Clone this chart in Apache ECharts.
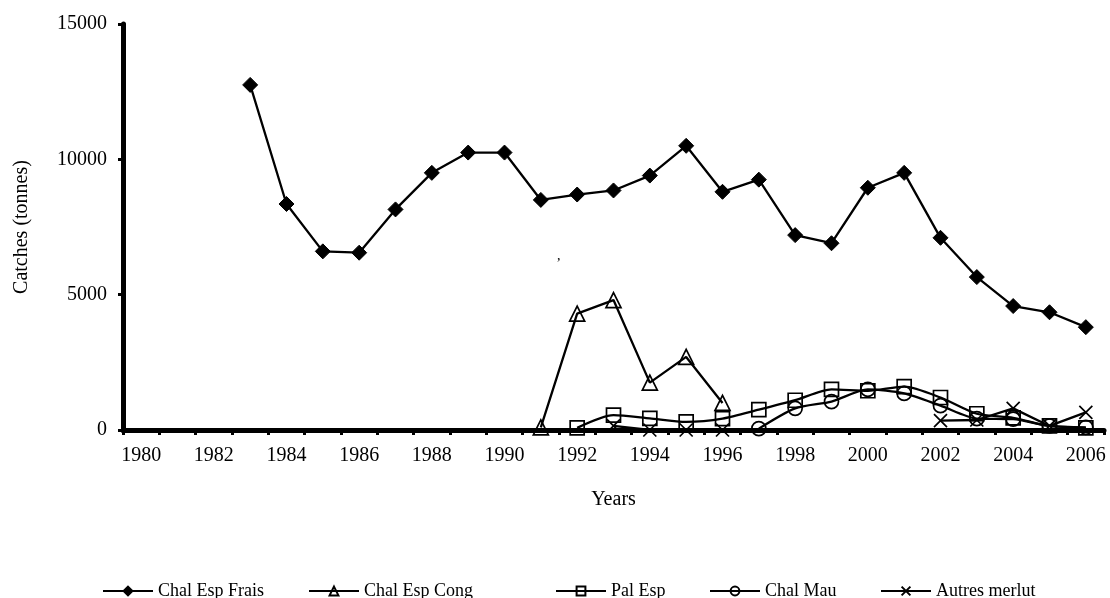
<!DOCTYPE html>
<html><head><meta charset="utf-8">
<script src="https://cdn.jsdelivr.net/npm/echarts@6/dist/echarts.min.js"></script>
<style>html,body{margin:0;padding:0;background:#fff}#c{width:1110px;height:598px}</style>
</head><body><div id="c"></div>
<script>
const years = ['1980','1981','1982','1983','1984','1985','1986','1987','1988','1989','1990','1991','1992','1993','1994','1995','1996','1997','1998','1999','2000','2001','2002','2003','2004','2005','2006'];
const chalEspFrais = [null,null,null,12750,8350,6600,6550,8150,9500,10250,10250,8500,8700,8850,9400,10500,8800,9250,7200,6900,8950,9500,7100,5650,4580,4350,3800];
const chalEspCong = [null,null,null,null,null,null,null,null,null,null,null,100,4300,4800,1750,2700,1000,null,null,null,null,null,null,null,null,null,null];
const palEsp = [null,null,null,null,null,null,null,null,null,null,null,null,80,550,430,300,420,750,1100,1500,1450,1600,1200,600,450,150,80];
const chalMau = [null,null,null,null,null,null,null,null,null,null,null,null,null,null,null,null,null,50,800,1050,1500,1350,900,420,400,150,100];
const autresMerlut = [null,null,null,null,null,null,null,null,null,null,null,null,null,150,0,0,0,null,null,null,null,null,350,370,800,150,650];
const yTicks = [0,5000,10000,15000];

const FONT = 'Liberation Serif';
const crossPath = 'path://M0,0L10,10M10,0L0,10';
function mk(name, data, symbol, size, filled, smooth){
  return {
    name, type:'line', data, symbol, symbolSize:size, smooth: smooth||false,
    connectNulls:false, showSymbol:true,
    lineStyle:{color:'#000', width:2.3},
    itemStyle: filled ? {color:'#000', borderColor:'#000', borderWidth:1}
                      : {color:'rgba(0,0,0,0)', borderColor:'#000', borderWidth:1.7},
    emphasis:{disabled:true}
  };
}
const series = [
  mk('Chal Esp Frais', chalEspFrais, 'diamond', 15, true),
  mk('Chal Esp Cong', chalEspCong, 'triangle', 15, false),
  mk('Pal Esp', palEsp, 'rect', 14, false, 0.25),
  mk('Chal Mau', chalMau, 'circle', 14, false, 0.25),
  mk('Autres merlut', autresMerlut, crossPath, 13, false)
];
const legendPos = [97, 303, 550, 704, 875];
const legends = series.map((s,i)=>({
  data:[s.name], left:legendPos[i], top:577, itemWidth:50, itemHeight:11, itemGap:4,
  textStyle:{fontFamily:FONT, fontSize:18, color:'#000'}, selectedMode:false
}));
const chart = echarts.init(document.getElementById('c'));
chart.setOption({
  animation:false,
  backgroundColor:'#fff',
  grid:{left:123, right:6, top:24, bottom:168},
  legend: legends,
  xAxis:{
    type:'category', data:years, boundaryGap:true,
    name:'Years', nameLocation:'middle', nameGap:60,
    nameTextStyle:{fontFamily:FONT, fontSize:20, color:'#000'},
    axisLine:{lineStyle:{color:'#000', width:5}},
    axisTick:{show:true, interval:0, length:5, lineStyle:{color:'#000', width:3}},
    axisLabel:{interval:1, margin:16, fontFamily:FONT, fontSize:20, color:'#000'},
    splitLine:{show:false}
  },
  yAxis:{
    type:'value', min:yTicks[0], max:yTicks[yTicks.length-1], interval:yTicks[1]-yTicks[0],
    name:'Catches (tonnes)', nameLocation:'middle', nameGap:91, nameRotate:90,
    nameTextStyle:{fontFamily:FONT, fontSize:20, color:'#000'},
    axisLine:{show:true, lineStyle:{color:'#000', width:5}},
    axisTick:{show:true, length:5, lineStyle:{color:'#000', width:3}},
    axisLabel:{margin:16, fontFamily:FONT, fontSize:20, color:'#000', formatter:v=>String(v)},
    splitLine:{show:false}
  },
  graphic:[{type:'text', left:557, top:249, style:{text:',', font:'14px "Liberation Serif"', fill:'#000'}}],
  series
});
</script></body></html>
